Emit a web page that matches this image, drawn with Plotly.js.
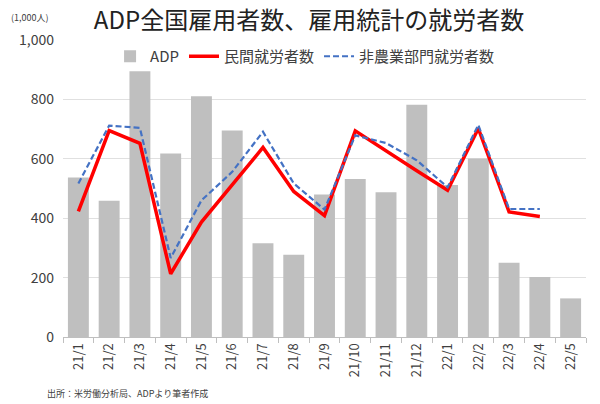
<!DOCTYPE html>
<html><head><meta charset="utf-8">
<script src="https://cdn.plot.ly/plotly-3.0.1.min.js"></script>
<style>body{margin:0;background:#fff}#c{width:600px;height:404px}</style>
</head><body><div id="c"></div>
<script>
const months = ["21/1","21/2","21/3","21/4","21/5","21/6","21/7","21/8","21/9","21/10","21/11","21/12","22/1","22/2","22/3","22/4","22/5"];
const adp = [537,459,895,618,811,695,316,277,480,532,487,782,512,601,250,202,130];
const privateEmp = [423,695,652,213,387,511,638,490,409,694,626,560,494,702,421,406,null];
const nonfarm = [517,712,704,266,460,556,691,517,429,679,653,595,504,714,431,431,null];
const F = "'Noto Sans CJK JP', 'Noto Sans', sans-serif";
const data = [
  {type:'bar', x:months, y:adp, name:'ADP', marker:{color:'#bfbfbf'}},
  {type:'scatter', mode:'lines', x:months, y:privateEmp, name:'民間就労者数', line:{color:'#ff0000', width:3.5}},
  {type:'scatter', mode:'lines', x:months, y:nonfarm, name:'非農業部門就労者数', line:{color:'#4472c4', width:2.2, dash:'6px,3px'}}
];
const layout = {
  width:600, height:404,
  margin:{l:63, r:14, t:40, b:67},
  paper_bgcolor:'#fff', plot_bgcolor:'#fff',
  font:{family:F, color:'#404040'},
  title:{text:'ADP全国雇用者数、雇用統計の就労者数', font:{size:24, color:'#222', family:F}, x:0.515, xanchor:'center', y:0.95, yanchor:'middle'},
  bargap:0.32,
  showlegend:true,
  legend:{orientation:'h', x:0.09, xanchor:'left', y:1.0, yanchor:'top', font:{size:15, color:'#404040'}, bgcolor:'rgba(255,255,255,0)', traceorder:'normal', itemwidth:30},
  xaxis:{type:'category', tickangle:-90, tickfont:{size:13, color:'#404040'}, showgrid:false, showline:true, linecolor:'#bfbfbf', ticks:'outside', ticklen:5, tickcolor:'#bfbfbf', tickson:'boundaries'},
  yaxis:{range:[0,1000], tickvals:[0,200,400,600,800,1000], ticktext:['0','200','400','600','800','1,000'], tickfont:{size:14, color:'#404040'}, gridcolor:'#e0e0e0', showline:false, zeroline:false, ticks:'', ticklabelstandoff:8},
  annotations:[
    {text:'(1,000人)', xref:'paper', yref:'paper', x:-0.1, y:1.075, xanchor:'left', yanchor:'middle', showarrow:false, font:{size:9, color:'#404040'}, xshift:-2},
    {text:'出所：米労働分析局、ADPより筆者作成', xref:'paper', yref:'paper', x:-0.035, y:-0.19, xanchor:'left', yanchor:'middle', showarrow:false, font:{size:9, color:'#404040'}}
  ]
};
Plotly.newPlot('c', data, layout, {displayModeBar:false, staticPlot:true});
</script></body></html>
